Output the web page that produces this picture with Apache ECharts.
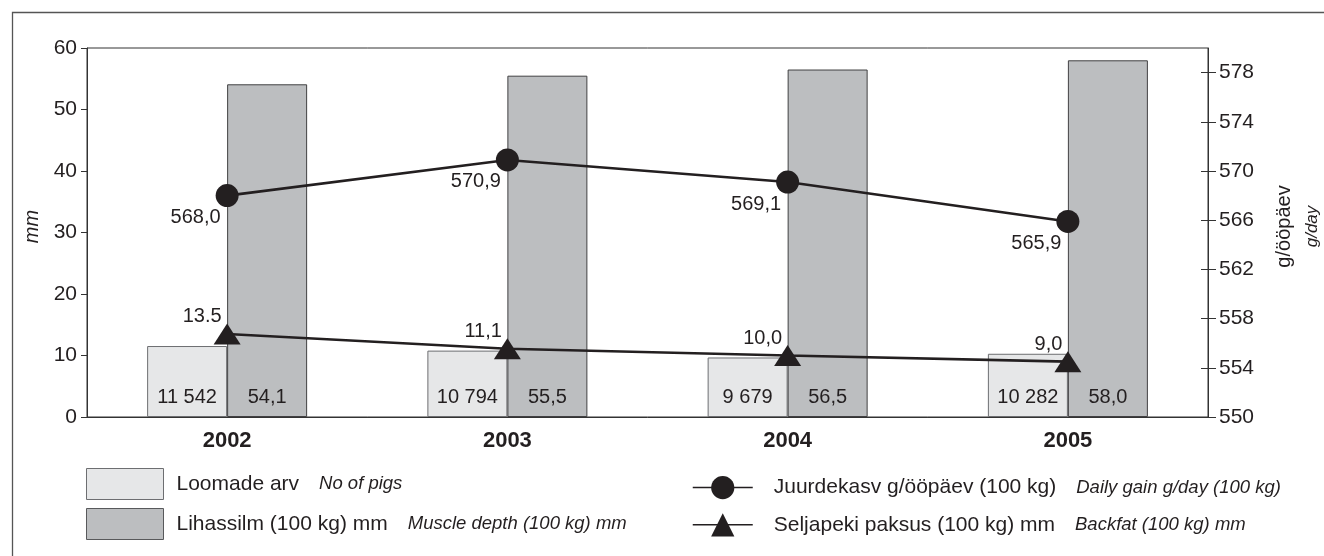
<!DOCTYPE html>
<html>
<head>
<meta charset="utf-8">
<script src="https://cdn.jsdelivr.net/npm/echarts@6/dist/echarts.min.js"></script>
<style>
html,body{margin:0;padding:0;background:#fff;}
#chart{width:1324px;height:556px;}
</style>
</head>
<body>
<div id="chart"></div>
<script>
const years = ['2002', '2003', '2004', '2005'];
const pigCounts = [11542, 10794, 9679, 10282];
const muscleDepth = [54.1, 55.5, 56.5, 58.0];
const dailyGain = [568.0, 570.9, 569.1, 565.9];
const backfat = [13.5, 11.1, 10.0, 9.0];
const backfatLabels = ['13.5', '11,1', '10,0', '9,0'];
const leftTicks = [0, 10, 20, 30, 40, 50, 60];
const rightTicks = [550, 554, 558, 562, 566, 570, 574, 578];
const rightMax = 580;

const seriesNames = ['Loomade arv', 'Lihassilm (100 kg) mm', 'Juurdekasv g/ööpäev (100 kg)', 'Seljapeki paksus (100 kg) mm'];
const seriesNamesEn = ['No of pigs', 'Muscle depth (100 kg) mm', 'Daily gain g/day (100 kg)', 'Backfat (100 kg) mm'];

const FONT = "'Liberation Sans', Arial, Helvetica, sans-serif";
const INK = '#231f20';
const LIGHT = '#e6e7e8';
const DARK = '#bcbec0';

const fmtComma = v => v.toFixed(1).replace('.', ',');
const fmtThousands = v => String(v).replace(/\B(?=(\d{3})+(?!\d))/g, ' ');
const enOf = name => seriesNamesEn[seriesNames.indexOf(name)];

const chart = echarts.init(document.getElementById('chart'), null, {renderer: 'canvas'});

const legendRich = (padA) => ({
  a: {fontFamily: FONT, fontSize: 21, color: INK, padding: [0, 0, 0, padA]},
  b: {fontFamily: FONT, fontSize: 18.5, fontStyle: 'italic', color: INK, padding: [0, 0, 0, 20]}
});

const option = {
  backgroundColor: '#fff',
  animation: false,
  textStyle: {fontFamily: FONT, color: INK},
  grid: {
    left: 87, right: 116, top: 48, bottom: 139,
    containLabel: false,
    outerBoundsMode: 'none',
    show: true, borderColor: '#333', borderWidth: 1, backgroundColor: 'transparent'
  },
  graphic: [{
    type: 'polyline',
    shape: {points: [[12.5, 556], [12.5, 12.5], [1324, 12.5]]},
    style: {stroke: '#555', lineWidth: 1.3, fill: null},
    silent: true
  }],
  legend: [{
    orient: 'vertical',
    left: 81, top: 463,
    itemWidth: 77, itemHeight: 31, itemGap: 8,
    selectedMode: false,
    icon: 'rect',
    data: [
      {name: seriesNames[0], itemStyle: {color: LIGHT, borderColor: '#6d6e71', borderWidth: 1}},
      {name: seriesNames[1], itemStyle: {color: DARK, borderColor: '#58595b', borderWidth: 1}}
    ],
    formatter: name => '{a|' + name + '}{b|' + enOf(name) + '}',
    textStyle: {rich: legendRich(8)}
  }, {
    orient: 'vertical',
    left: 687, top: 471,
    itemWidth: 60, itemHeight: 29, itemGap: 14,
    selectedMode: false,
    lineStyle: {width: 1.5},
    data: [seriesNames[2], seriesNames[3]],
    formatter: name => '{a|' + name + '}{b|' + enOf(name) + '}',
    textStyle: {rich: legendRich(16)}
  }],
  xAxis: {
    type: 'category',
    data: years,
    axisLine: {show: true, lineStyle: {color: '#333', width: 1}},
    axisTick: {show: false},
    axisLabel: {fontFamily: FONT, fontSize: 22, fontWeight: 'bold', color: INK, margin: 13},
    splitLine: {show: false}
  },
  yAxis: [{
    type: 'value',
    position: 'left',
    min: leftTicks[0], max: leftTicks[leftTicks.length - 1], interval: leftTicks[1] - leftTicks[0],
    name: 'mm',
    nameLocation: 'middle',
    nameGap: 34,
    nameRotate: 90,
    nameTextStyle: {fontFamily: FONT, fontSize: 20, fontStyle: 'italic', color: INK, padding: [0, 0, 0, 12]},
    axisLine: {show: true, lineStyle: {color: '#333', width: 1}},
    axisTick: {show: true, length: 6, lineStyle: {color: '#333'}},
    axisLabel: {fontFamily: FONT, fontSize: 21, color: INK, margin: 10},
    splitLine: {show: false}
  }, {
    type: 'value',
    position: 'right',
    min: rightTicks[0], max: rightMax, interval: rightTicks[1] - rightTicks[0],
    name: '{a|g/ööpäev}\n{b|g/day}',
    nameLocation: 'middle',
    nameGap: 61,
    nameRotate: 90,
    nameTextStyle: {
      fontFamily: FONT, color: INK, align: 'center',
      padding: [0, 0, 0, 12],
      rich: {
        a: {fontFamily: FONT, fontSize: 20, color: INK, lineHeight: 30, align: 'center'},
        b: {fontFamily: FONT, fontSize: 17, fontStyle: 'italic', color: INK, lineHeight: 26, align: 'center'}
      }
    },
    axisLine: {show: true, lineStyle: {color: '#333', width: 1}},
    axisTick: {show: true, length: 8, lineStyle: {color: '#333'}, customValues: rightTicks},
    axisLabel: {fontFamily: FONT, fontSize: 21, color: INK, margin: 11, customValues: rightTicks},
    splitLine: {show: false}
  }, {
    type: 'value',
    position: 'right',
    min: rightTicks[0], max: rightMax, interval: rightTicks[1] - rightTicks[0],
    axisLine: {show: false},
    axisTick: {show: true, inside: true, length: 7, lineStyle: {color: '#333'}, customValues: rightTicks},
    axisLabel: {show: false},
    splitLine: {show: false}
  }],
  series: [{
    name: seriesNames[0],
    type: 'bar',
    yAxisIndex: 0,
    barWidth: 80,
    barGap: '0%',
    data: pigCounts.map(v => v / 1000),
    itemStyle: {color: LIGHT, borderColor: '#6d6e71', borderWidth: 1},
    label: {
      show: true, position: 'insideBottom', distance: 10,
      fontFamily: FONT, fontSize: 20, color: INK,
      formatter: p => fmtThousands(pigCounts[p.dataIndex])
    },
    z: 2
  }, {
    name: seriesNames[1],
    type: 'bar',
    yAxisIndex: 0,
    barWidth: 80,
    barGap: '0%',
    data: muscleDepth,
    itemStyle: {color: DARK, borderColor: '#414042', borderWidth: 1},
    label: {
      show: true, position: 'insideBottom', distance: 10,
      fontFamily: FONT, fontSize: 20, color: INK,
      formatter: p => fmtComma(p.value)
    },
    z: 2
  }, {
    name: seriesNames[2],
    type: 'line',
    yAxisIndex: 1,
    data: dailyGain,
    symbol: 'circle',
    symbolSize: 23,
    itemStyle: {color: INK},
    lineStyle: {color: INK, width: 2.6},
    label: {
      show: true, position: 'left', distance: 0, offset: [5, 22],
      fontFamily: FONT, fontSize: 20, color: INK,
      formatter: p => fmtComma(p.value)
    },
    z: 5
  }, {
    name: seriesNames[3],
    type: 'line',
    yAxisIndex: 0,
    data: backfat,
    symbol: 'triangle',
    symbolSize: [27, 21],
    itemStyle: {color: INK},
    lineStyle: {color: INK, width: 2.6},
    label: {
      show: true, position: 'left', distance: 0, offset: [8, -17],
      fontFamily: FONT, fontSize: 20, color: INK,
      formatter: p => backfatLabels[p.dataIndex]
    },
    z: 5
  }]
};

chart.setOption(option);
</script>
</body>
</html>
